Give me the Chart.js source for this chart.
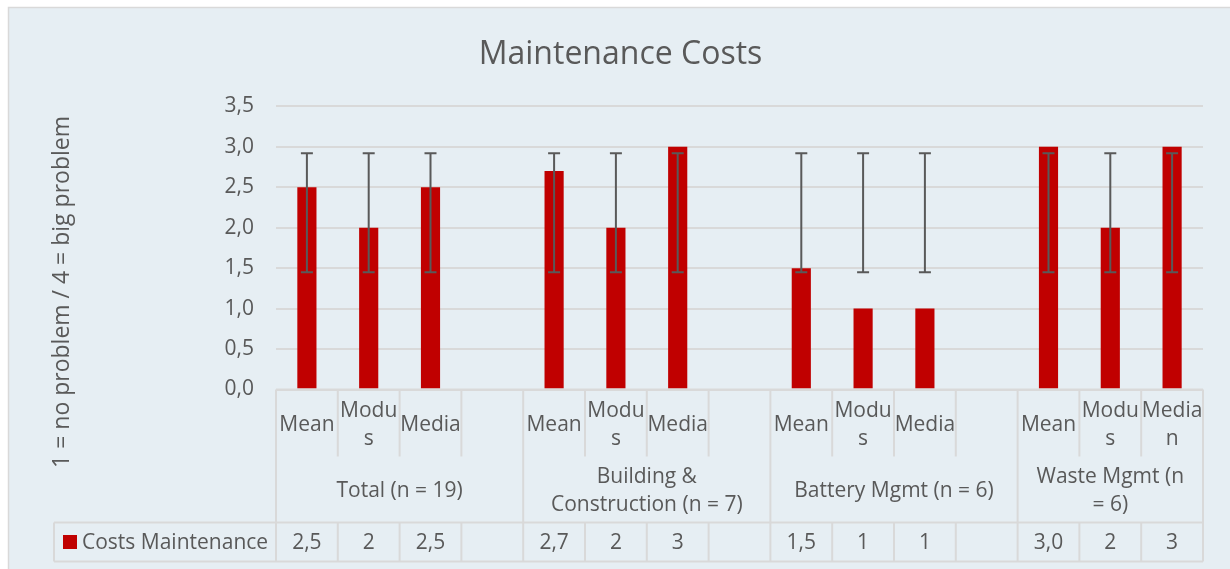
<!DOCTYPE html>
<html>
<head>
<meta charset="utf-8">
<script src="https://cdn.jsdelivr.net/npm/chart.js@4.4.1/dist/chart.umd.min.js"></script>
<style>
    html, body { margin: 0; padding: 0; background: #fff; }
    canvas { display: block; }
</style>
</head>
<body>
<canvas id="maintenanceChart" width="1230" height="569"></canvas>
<script>
// Daten aus dem Diagramm
const categories = ['Mean', 'Modus', 'Median', '', 'Mean', 'Modus', 'Median', '', 'Mean', 'Modus', 'Median', '', 'Mean', 'Modus', 'Median'];
// so wie die Beschriftungen in der Tabelle umbrechen
const subLabels = [
    ['Mean'], ['Modu', 's'], ['Media'], [''],
    ['Mean'], ['Modu', 's'], ['Media'], [''],
    ['Mean'], ['Modu', 's'], ['Media'], [''],
    ['Mean'], ['Modu', 's'], ['Media', 'n']
];
const groupLabels = [['Total (n = 19)'], ['Building &', 'Construction (n = 7)'], ['Battery Mgmt (n = 6)'], ['Waste Mgmt (n', '= 6)']];
const groupSizes = [4, 4, 4, 3];
const costs = [2.5, 2, 2.5, null, 2.7, 2, 3, null, 1.5, 1, 1, null, 3.0, 2, 3];
const tableText = ['2,5', '2', '2,5', '', '2,7', '2', '3', '', '1,5', '1', '1', '', '3,0', '2', '3'];
const errLow = [1.45, 1.45, 1.45, null, 1.45, 1.45, 1.45, null, 1.45, 1.45, 1.45, null, 1.45, 1.45, 1.45];
const errHigh = [2.92, 2.92, 2.92, null, 2.92, 2.92, 2.92, null, 2.92, 2.92, 2.92, null, 2.92, 2.92, 2.92];
const seriesName = 'Costs Maintenance';

const FONT = "'Open Sans', sans-serif";
const TEXT = '#595959';
const LINE = '#D9D9D9';
const RED = '#C00000';

// Hintergrund + Rahmen
const panelPlugin = {
    id: 'panel',
    beforeDraw(chart) {
        const ctx = chart.ctx;
        ctx.save();
        ctx.fillStyle = '#fff';
        ctx.fillRect(0, 0, chart.width, chart.height);
        ctx.fillStyle = '#E6EEF3';
        ctx.fillRect(8, 7, chart.width - 8, chart.height - 7);
        ctx.strokeStyle = LINE;
        ctx.lineWidth = 1.5;
        ctx.strokeRect(8.5, 7.5, chart.width + 5, chart.height + 5);
        ctx.restore();
    }
};

// Fehlerbalken
const errorBarPlugin = {
    id: 'errorBars',
    afterDatasetsDraw(chart) {
        const ctx = chart.ctx;
        const x = chart.scales.x;
        const y = chart.scales.y;
        ctx.save();
        ctx.strokeStyle = TEXT;
        ctx.lineWidth = 2;
        errLow.forEach((lo, i) => {
            if (lo === null) return;
            const xc = x.getPixelForValue(i);
            const yl = y.getPixelForValue(lo);
            const yh = y.getPixelForValue(errHigh[i]);
            ctx.beginPath();
            ctx.moveTo(xc, yl); ctx.lineTo(xc, yh);
            ctx.moveTo(xc - 6, yl); ctx.lineTo(xc + 6, yl);
            ctx.moveTo(xc - 6, yh); ctx.lineTo(xc + 6, yh);
            ctx.stroke();
        });
        ctx.restore();
    }
};

// Datentabelle unter der Achse
const dataTablePlugin = {
    id: 'dataTable',
    afterDraw(chart) {
        const ctx = chart.ctx;
        const x = chart.scales.x;
        const area = chart.chartArea;
        const colW = x.getPixelForValue(1) - x.getPixelForValue(0);
        const left = x.getPixelForValue(0) - colW / 2;
        const right = left + colW * categories.length;
        const y0 = area.bottom;
        const subBottom = y0 + 67;
        const rowTop = y0 + 133;
        const rowBottom = y0 + 172;
        const tableLeft = 54;

        // Gruppengrenzen
        const groupEdges = [0];
        groupSizes.forEach(n => groupEdges.push(groupEdges[groupEdges.length - 1] + n));

        ctx.save();
        ctx.strokeStyle = LINE;
        ctx.lineWidth = 2;
        ctx.beginPath();
        ctx.moveTo(left, y0); ctx.lineTo(right, y0);
        ctx.moveTo(tableLeft, rowTop); ctx.lineTo(right, rowTop);
        ctx.moveTo(tableLeft, rowBottom); ctx.lineTo(right, rowBottom);
        ctx.moveTo(tableLeft, rowTop); ctx.lineTo(tableLeft, rowBottom);
        for (let i = 0; i <= categories.length; i++) {
            const xb = left + i * colW;
            if (groupEdges.includes(i)) {
                ctx.moveTo(xb, y0); ctx.lineTo(xb, rowBottom);
            } else {
                ctx.moveTo(xb, y0); ctx.lineTo(xb, subBottom);
                ctx.moveTo(xb, rowTop); ctx.lineTo(xb, rowBottom);
            }
        }
        ctx.stroke();

        ctx.fillStyle = TEXT;
        ctx.font = '21px ' + FONT;
        ctx.textAlign = 'center';
        ctx.textBaseline = 'middle';

        // Kategorien
        subLabels.forEach((lines, i) => {
            const xc = x.getPixelForValue(i);
            const yc = y0 + 36 - (lines.length - 1) * 14;
            lines.forEach((t, k) => ctx.fillText(t, xc, yc + k * 28));
        });

        // Gruppen
        groupLabels.forEach((lines, g) => {
            const xc = left + (groupEdges[g] + groupEdges[g + 1]) / 2 * colW;
            const yc = (subBottom + rowTop) / 2 + 2 - (lines.length - 1) * 14;
            lines.forEach((t, k) => ctx.fillText(t, xc, yc + k * 28));
        });

        // Werte
        const yRow = (rowTop + rowBottom) / 2;
        tableText.forEach((t, i) => ctx.fillText(t, x.getPixelForValue(i), yRow + 1));

        // Legendenfeld
        ctx.fillStyle = RED;
        ctx.fillRect(63, yRow - 7, 14, 14);
        ctx.fillStyle = TEXT;
        ctx.textAlign = 'left';
        ctx.fillText(seriesName, 82, yRow + 1);

        // Achsentitel
        ctx.translate(62, 292);
        ctx.rotate(-Math.PI / 2);
        ctx.textAlign = 'center';
        ctx.font = '23px ' + FONT;
        ctx.fillText('1 = no problem / 4 = big problem', 0, 0);
        ctx.restore();
    }
};

new Chart(document.getElementById('maintenanceChart'), {
    type: 'bar',
    data: {
        labels: categories,
        datasets: [{
            label: seriesName,
            data: costs,
            backgroundColor: RED,
            borderWidth: 0,
            categoryPercentage: 1,
            barPercentage: 0.31
        }]
    },
    options: {
        responsive: false,
        animation: false,
        layout: {
            padding: { left: 38, right: 27, top: 0, bottom: 0 }
        },
        scales: {
            x: {
                ticks: { display: false },
                grid: { display: false },
                border: { display: false },
                afterFit(scale) { scale.height = 179.5; }
            },
            y: {
                min: 0,
                max: 3.5,
                ticks: {
                    stepSize: 0.5,
                    color: TEXT,
                    padding: 22,
                    font: { family: FONT, size: 21 },
                    callback: v => v.toFixed(1).replace('.', ',')
                },
                grid: {
                    color: LINE,
                    lineWidth: 2,
                    drawTicks: false
                },
                border: { display: false },
                afterFit(scale) { scale.width = 238; }
            }
        },
        plugins: {
            legend: { display: false },
            tooltip: { enabled: false },
            title: {
                display: true,
                text: 'Maintenance Costs',
                color: TEXT,
                font: { family: FONT, size: 32, weight: 'normal' },
                padding: { top: 36, bottom: 32 }
            }
        }
    },
    plugins: [panelPlugin, errorBarPlugin, dataTablePlugin]
});
</script>
</body>
</html>
